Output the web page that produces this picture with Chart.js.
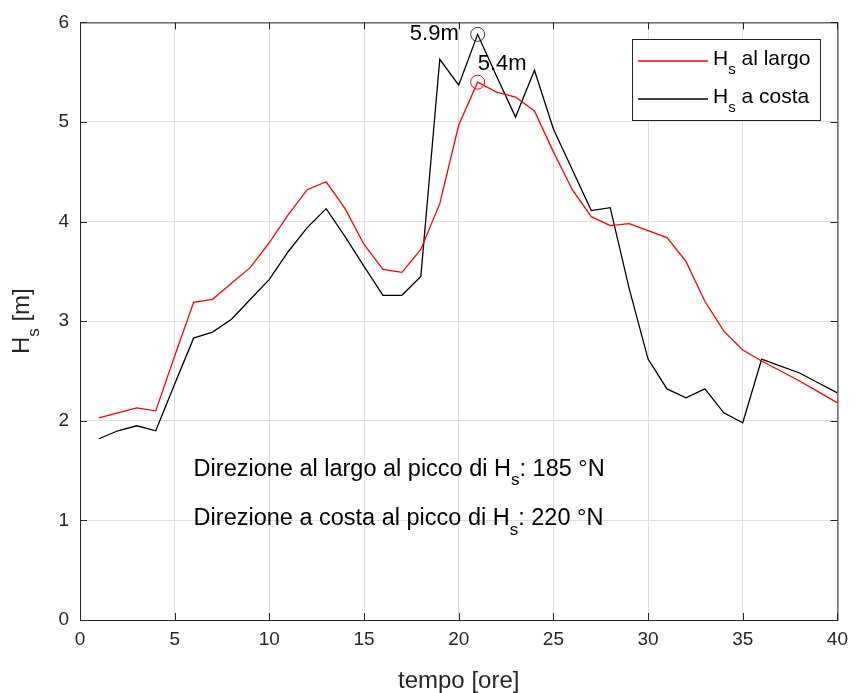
<!DOCTYPE html>
<html>
<head>
<meta charset="utf-8">
<script src="https://cdn.jsdelivr.net/npm/chart.js@4.4.1/dist/chart.umd.min.js"></script>
<style>
  html, body { margin: 0; padding: 0; background: #fff; }
  canvas { display: block; }
</style>
</head>
<body>
<canvas id="hsChart" width="856" height="693"></canvas>
<script>
// tempo [ore]
const hours = [1, 2, 3, 4, 5, 6, 7, 8, 9, 10, 11, 12, 13, 14, 15, 16, 17, 18, 19, 20,
               21, 22, 23, 24, 25, 26, 27, 28, 29, 30, 31, 32, 33, 34, 35, 36, 37, 38, 39, 40];
// Hs al largo [m]
const hsLargo = [2.03, 2.08, 2.13, 2.10, 2.65, 3.19, 3.22, 3.38, 3.54, 3.79,
                 4.07, 4.32, 4.40, 4.13, 3.77, 3.52, 3.49, 3.72, 4.18, 4.97,
                 5.40, 5.30, 5.25, 5.11, 4.70, 4.32, 4.05, 3.96, 3.98, 3.91,
                 3.84, 3.60, 3.20, 2.90, 2.71, 2.60, 2.50, 2.40, 2.29, 2.18];
// Hs a costa [m]
const hsCosta = [1.82, 1.90, 1.95, 1.90, 2.37, 2.83, 2.89, 3.02, 3.22, 3.42,
                 3.70, 3.94, 4.13, 3.85, 3.55, 3.26, 3.26, 3.45, 5.63, 5.37,
                 5.88, 5.46, 5.05, 5.52, 4.93, 4.52, 4.11, 4.14, 3.33, 2.62,
                 2.32, 2.23, 2.32, 2.08, 1.98, 2.62, 2.55, 2.48, 2.38, 2.28];
const seriesNames = ['al largo', 'a costa'];
const seriesColors = ['#ff0000', '#000000'];
// direzione al picco [°N]
const peakDirections = [185, 220];
const xTicks = [0, 5, 10, 15, 20, 25, 30, 35, 40];
const yTicks = [0, 1, 2, 3, 4, 5, 6];

const FONT = "'Liberation Sans', Arial, Helvetica, sans-serif";
const AXIS_COLOR = '#262626';

function toPoints(values) {
    return values.map((v, i) => ({ x: hours[i], y: v }));
}

function peakOf(values) {
    let idx = 0;
    values.forEach((v, i) => { if (v > values[idx]) idx = i; });
    return { x: hours[idx], y: values[idx] };
}

const peakLargo = peakOf(hsLargo);
const peakCosta = peakOf(hsCosta);

// text with a subscript: parts = [[text, isSub], ...]
function subTextWidth(ctx, parts, size) {
    let w = 0;
    parts.forEach(([txt, sub]) => {
        ctx.font = (sub ? Math.round(size * 0.72) : size) + 'px ' + FONT;
        w += ctx.measureText(txt).width;
    });
    return w;
}

function drawSubText(ctx, parts, x, y, size) {
    ctx.textBaseline = 'alphabetic';
    ctx.textAlign = 'left';
    parts.forEach(([txt, sub]) => {
        ctx.font = (sub ? Math.round(size * 0.72) : size) + 'px ' + FONT;
        ctx.fillText(txt, x, sub ? y + size * 0.42 : y);
        x += ctx.measureText(txt).width;
    });
}

const frameAndText = {
    id: 'frameAndText',
    afterDraw(chart) {
        const ctx = chart.ctx;
        const xs = chart.scales.x;
        const ys = chart.scales.y;
        const { left, right, top, bottom } = chart.chartArea;
        const tick = 7;

        ctx.save();
        ctx.strokeStyle = AXIS_COLOR;
        ctx.lineWidth = 1;

        // box with inward ticks on every side
        ctx.strokeRect(left + 0.5, top + 0.5, right - left, bottom - top);
        ctx.beginPath();
        xTicks.forEach(v => {
            const px = Math.round(xs.getPixelForValue(v)) + 0.5;
            ctx.moveTo(px, bottom); ctx.lineTo(px, bottom - tick);
            ctx.moveTo(px, top); ctx.lineTo(px, top + tick);
        });
        yTicks.forEach(v => {
            const py = Math.round(ys.getPixelForValue(v)) + 0.5;
            ctx.moveTo(left, py); ctx.lineTo(left + tick, py);
            ctx.moveTo(right, py); ctx.lineTo(right - tick, py);
        });
        ctx.stroke();

        ctx.fillStyle = AXIS_COLOR;

        // axis titles
        ctx.font = '24px ' + FONT;
        ctx.textAlign = 'center';
        ctx.textBaseline = 'middle';
        ctx.fillText('tempo [ore]', (left + right) / 2, 681);

        const yTitle = [['H', false], ['s', true], [' [m]', false]];
        ctx.save();
        ctx.translate(29, (top + bottom) / 2);
        ctx.rotate(-Math.PI / 2);
        const yw = subTextWidth(ctx, yTitle, 24);
        drawSubText(ctx, yTitle, -yw / 2, 0, 24);
        ctx.restore();

        // peak labels
        ctx.fillStyle = '#000';
        ctx.font = '22px ' + FONT;
        ctx.textBaseline = 'middle';
        ctx.textAlign = 'right';
        ctx.fillText(peakCosta.y.toFixed(1) + 'm', xs.getPixelForValue(peakCosta.x - 1), ys.getPixelForValue(peakCosta.y));
        ctx.textAlign = 'left';
        ctx.fillText(peakLargo.y.toFixed(1) + 'm', xs.getPixelForValue(peakLargo.x), ys.getPixelForValue(peakLargo.y + 0.18));

        // peak direction notes
        const notes = [
            [['Direzione ' + seriesNames[0] + ' al picco di H', false], ['s', true], [': ' + peakDirections[0] + ' °N', false]],
            [['Direzione ' + seriesNames[1] + ' al picco di H', false], ['s', true], [': ' + peakDirections[1] + ' °N', false]]
        ];
        drawSubText(ctx, notes[0], xs.getPixelForValue(6), ys.getPixelForValue(1.5) + 5, 23.5);
        drawSubText(ctx, notes[1], xs.getPixelForValue(6), ys.getPixelForValue(1.0) + 5, 23.5);

        // legend
        const lx = 632, ly = 39, lw = 188, lh = 81;
        ctx.fillStyle = '#fff';
        ctx.fillRect(lx, ly, lw, lh);
        ctx.lineWidth = 1;
        ctx.strokeStyle = AXIS_COLOR;
        ctx.strokeRect(lx + 0.5, ly + 0.5, lw, lh);
        const rows = [61, 99];
        seriesNames.forEach((name, i) => {
            ctx.strokeStyle = seriesColors[i];
            ctx.lineWidth = 1.5;
            ctx.beginPath();
            ctx.moveTo(638, rows[i]);
            ctx.lineTo(708, rows[i]);
            ctx.stroke();
            ctx.fillStyle = '#000';
            drawSubText(ctx, [['H', false], ['s', true], [' ' + name, false]], 713, rows[i] + 4, 21);
        });

        ctx.restore();
    }
};

const ctx = document.getElementById('hsChart').getContext('2d');
new Chart(ctx, {
    type: 'scatter',
    data: {
        datasets: [
            {
                label: 'Hs ' + seriesNames[0],
                data: toPoints(hsLargo),
                showLine: true,
                borderColor: seriesColors[0],
                borderWidth: 1.3,
                pointRadius: 0,
                tension: 0
            },
            {
                label: 'Hs ' + seriesNames[1],
                data: toPoints(hsCosta),
                showLine: true,
                borderColor: seriesColors[1],
                borderWidth: 1.3,
                pointRadius: 0,
                tension: 0
            },
            {
                label: 'picco ' + seriesNames[0],
                data: [peakLargo],
                showLine: false,
                pointStyle: 'circle',
                pointRadius: 7,
                borderWidth: 1,
                borderColor: seriesColors[0],
                backgroundColor: 'rgba(0,0,0,0)'
            },
            {
                label: 'picco ' + seriesNames[1],
                data: [peakCosta],
                showLine: false,
                pointStyle: 'circle',
                pointRadius: 7,
                borderWidth: 1,
                borderColor: '#333',
                backgroundColor: 'rgba(0,0,0,0)'
            }
        ]
    },
    options: {
        responsive: false,
        animation: false,
        events: [],
        layout: { padding: { top: 20, right: 17, left: 0, bottom: 0 } },
        plugins: {
            legend: { display: false },
            tooltip: { enabled: false }
        },
        scales: {
            x: {
                type: 'linear',
                min: 0,
                max: 40,
                afterFit: scale => { scale.height = 73; },
                afterBuildTicks: scale => { scale.ticks = xTicks.map(v => ({ value: v })); },
                border: { display: false },
                grid: { color: '#dedede', lineWidth: 1, drawTicks: false },
                ticks: {
                    padding: 8,
                    color: AXIS_COLOR,
                    font: { family: FONT, size: 19 }
                }
            },
            y: {
                type: 'linear',
                min: 0,
                max: 6,
                afterFit: scale => { scale.width = 80; },
                afterBuildTicks: scale => { scale.ticks = yTicks.map(v => ({ value: v })); },
                border: { display: false },
                grid: { color: '#dedede', lineWidth: 1, drawTicks: false },
                ticks: {
                    padding: 11,
                    color: AXIS_COLOR,
                    font: { family: FONT, size: 19 }
                }
            }
        }
    },
    plugins: [frameAndText]
});
</script>
</body>
</html>
